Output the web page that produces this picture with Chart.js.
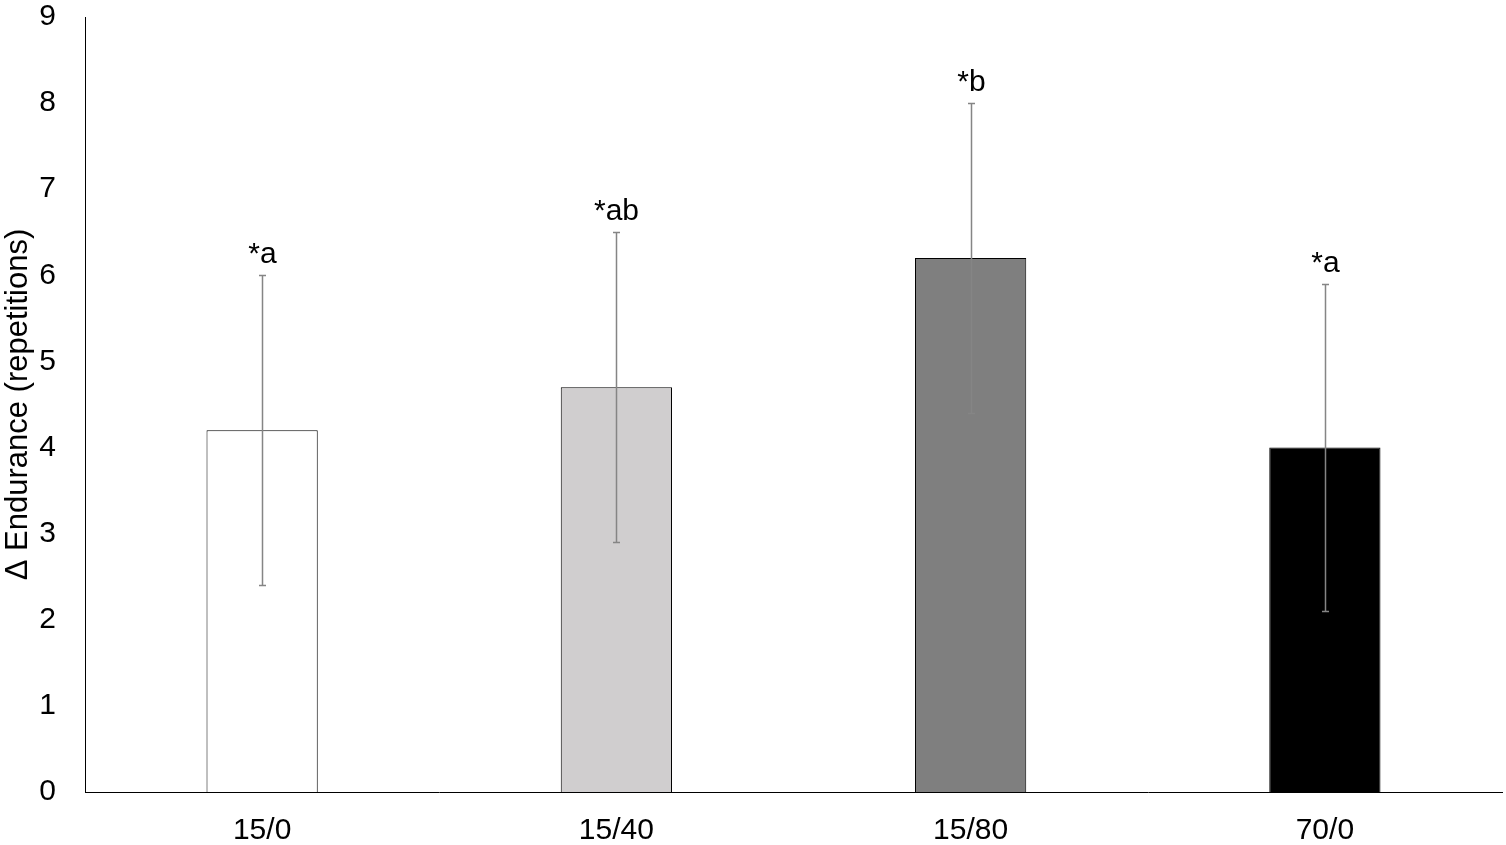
<!DOCTYPE html>
<html lang="en">
<head>
  <meta charset="UTF-8">
  <title>Endurance</title>
  <style>
    html, body { margin: 0; padding: 0; background: #fff; }
    #wrap { width: 1506px; height: 845px; }
  </style>
</head>
<body>
  <script src="https://cdn.jsdelivr.net/npm/chart.js"></script>
  <div id="wrap"><canvas id="barChart"></canvas></div>
  <script>
    const grupos = ['15/0', '15/40', '15/80', '70/0'];
    const medias = [4.2, 4.7, 6.2, 4.0];
    const errorAbajo = [2.4, 2.9, 4.4, 2.1];
    const errorArriba = [6.0, 6.5, 8.0, 5.9];
    const letras = ['*a', '*ab', '*b', '*a'];
    const colores = ['#ffffff', '#d0cecf', '#7f7f7f', '#000000'];

    const fuente = '"Liberation Sans", Arial, sans-serif';

    // barras de error y letras encima
    const errorPlugin = {
      id: 'errorBars',
      afterDatasetsDraw(chart) {
        const ctx = chart.ctx;
        const x = chart.scales.x;
        const y = chart.scales.y;
        ctx.save();
        grupos.forEach((g, i) => {
          const cx = Math.round(x.getPixelForValue(i)) + 0.5;
          const yTop = Math.round(y.getPixelForValue(errorArriba[i])) + 0.5;
          const yBot = Math.round(y.getPixelForValue(errorAbajo[i])) + 0.5;
          ctx.strokeStyle = '#858585';
          ctx.lineWidth = 1.5;
          ctx.beginPath();
          ctx.moveTo(cx, yTop); ctx.lineTo(cx, yBot);
          ctx.moveTo(cx - 3.5, yTop); ctx.lineTo(cx + 3.5, yTop);
          ctx.moveTo(cx - 3.5, yBot); ctx.lineTo(cx + 3.5, yBot);
          ctx.stroke();
          ctx.fillStyle = '#000';
          ctx.font = '30px ' + fuente;
          ctx.textAlign = 'center';
          ctx.textBaseline = 'alphabetic';
          ctx.fillText(letras[i], cx, yTop - 13);
        });
        ctx.restore();
      }
    };

    const ctx = document.getElementById('barChart').getContext('2d');
    const barChart = new Chart(ctx, {
      type: 'bar',
      data: {
        labels: grupos,
        datasets: [{
          data: medias,
          backgroundColor: colores,
          borderColor: '#000',
          borderWidth: 1,
          borderSkipped: 'bottom',
          barPercentage: 0.314,
          categoryPercentage: 1
        }]
      },
      options: {
        responsive: true,
        maintainAspectRatio: false,
        animation: false,
        layout: { padding: { top: 17, right: 4, left: 0, bottom: 0 } },
        plugins: {
          legend: { display: false },
          tooltip: { enabled: false }
        },
        scales: {
          x: {
            grid: { display: false, drawTicks: false },
            border: { color: '#000', width: 1 },
            ticks: {
              color: '#000',
              padding: 21,
              font: { family: fuente, size: 30 }
            },
            afterFit: s => {
              s.height = 53;
              s.paddingLeft = 0; s.paddingRight = 0;
            }
          },
          y: {
            min: 0,
            max: 9,
            grid: { display: false, drawTicks: false },
            border: { color: '#000', width: 1 },
            ticks: {
              stepSize: 1,
              color: '#000',
              padding: 29,
              font: { family: fuente, size: 30 }
            },
            title: {
              display: true,
              text: 'Δ Endurance (repetitions)',
              color: '#000',
              padding: { top: 0, bottom: 0 },
              font: { family: fuente, size: 31 }
            },
            afterFit: s => {
              s.width = 85;
              s.paddingTop = 0; s.paddingBottom = 0;
            }
          }
        }
      },
      plugins: [errorPlugin]
    });
  </script>
</body>
</html>
